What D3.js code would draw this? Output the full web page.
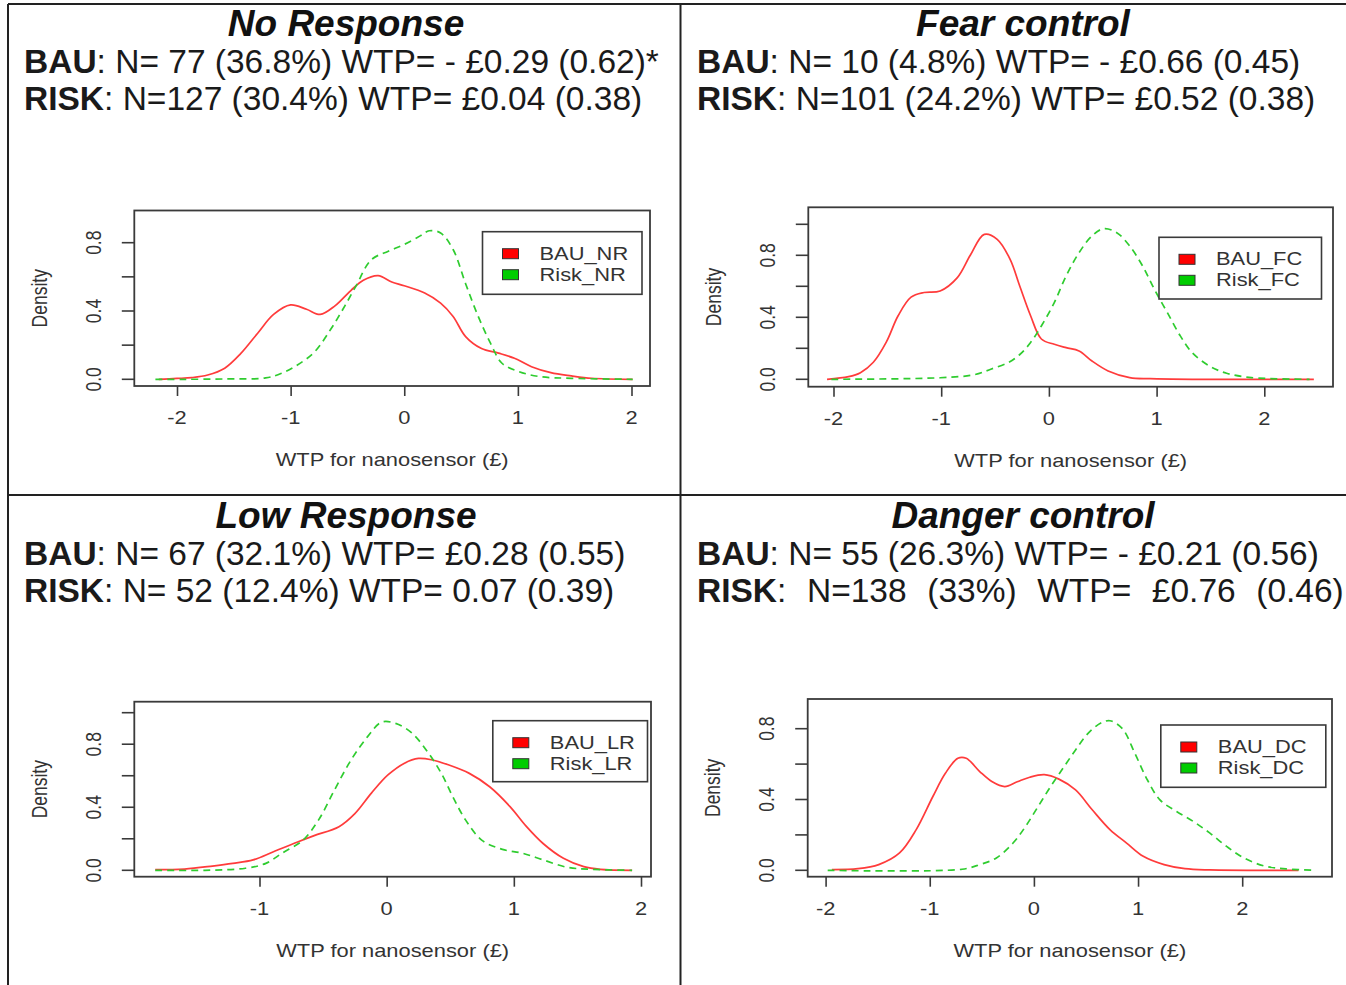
<!DOCTYPE html>
<html>
<head>
<meta charset="utf-8">
<script src="https://cdn.jsdelivr.net/npm/d3@7"></script>
<style>
  body { margin: 0; background: #fff; }
  text { font-family: "Liberation Sans", Arial, sans-serif; }
</style>
</head>
<body>
<div id="chart"></div>
<script>
// ---- data ----
var titles = ["No Response", "Fear control", "Low Response", "Danger control"]
var bauText = [" N= 77 (36.8%) WTP= - £0.29 (0.62)*", " N= 10 (4.8%) WTP= - £0.66 (0.45)",
               " N= 67 (32.1%) WTP= £0.28 (0.55)", " N= 55 (26.3%) WTP= - £0.21 (0.56)"]
var riskText = [" N=127 (30.4%) WTP= £0.04 (0.38)", " N=101 (24.2%) WTP= £0.52 (0.38)",
                " N= 52 (12.4%) WTP= 0.07 (0.39)", "  N=138  (33%)  WTP=  £0.76  (0.46)"]
var bauLegend = ["BAU_NR", "BAU_FC", "BAU_LR", "BAU_DC"]
var riskLegend = ["Risk_NR", "Risk_FC", "Risk_LR", "Risk_DC"]
var xTicks = [[-2, -1, 0, 1, 2], [-2, -1, 0, 1, 2], [-1, 0, 1, 2], [-2, -1, 0, 1, 2]]
var yTickLabels = ["0.0", "0.4", "0.8"]

// No Response
var nrBauX = [-2.16, -2, -1.87, -1.73, -1.58, -1.44, -1.29, -1.15, -1.0, -0.86, -0.74, -0.61, -0.47, -0.36, -0.23, -0.11, 0, 0.18, 0.32, 0.43, 0.54, 0.68, 0.83, 0.97, 1.12, 1.29, 1.47, 1.65, 2.01]
var nrBauY = [0.0, 0.005, 0.01, 0.025, 0.065, 0.15, 0.27, 0.38, 0.436, 0.41, 0.38, 0.43, 0.52, 0.58, 0.607, 0.57, 0.548, 0.505, 0.446, 0.368, 0.25, 0.18, 0.153, 0.123, 0.074, 0.039, 0.02, 0.006, 0.0]
var nrRiskX = [-2.19, -1.94, -1.59, -1.22, -1.08, -0.94, -0.79, -0.65, -0.54, -0.43, -0.29, -0.14, 0, 0.14, 0.22, 0.32, 0.43, 0.54, 0.65, 0.76, 0.86, 1.01, 1.19, 1.47, 2.01]
var nrRiskY = [0.0, 0.0, 0.002, 0.008, 0.035, 0.084, 0.16, 0.29, 0.41, 0.54, 0.70, 0.75, 0.79, 0.84, 0.87, 0.857, 0.76, 0.56, 0.37, 0.21, 0.094, 0.045, 0.016, 0.006, 0.0]
// Fear control
var fcBauX = [-2.06, -1.86, -1.75, -1.63, -1.51, -1.40, -1.28, -1.16, -1.01, -0.85, -0.73, -0.60, -0.48, -0.36, -0.27, -0.17, -0.07, 0.05, 0.16, 0.28, 0.40, 0.55, 0.75, 0.94, 1.33, 2.46]
var fcBauY = [0.0, 0.017, 0.043, 0.11, 0.24, 0.41, 0.53, 0.56, 0.57, 0.656, 0.80, 0.935, 0.903, 0.774, 0.60, 0.41, 0.26, 0.226, 0.204, 0.183, 0.118, 0.054, 0.011, 0.004, 0.0, 0.0]
var fcRiskX = [-2.02, -1.01, -0.69, -0.54, -0.38, -0.27, -0.17, -0.07, 0.05, 0.16, 0.28, 0.40, 0.51, 0.63, 0.75, 0.87, 0.98, 1.10, 1.22, 1.33, 1.49, 1.65, 1.88, 2.42]
var fcRiskY = [0.0, 0.01, 0.03, 0.065, 0.107, 0.16, 0.237, 0.344, 0.495, 0.667, 0.817, 0.925, 0.972, 0.946, 0.86, 0.731, 0.58, 0.43, 0.28, 0.172, 0.086, 0.039, 0.011, 0.0]
// Low Response
var lrBauX = [-1.82, -1.59, -1.37, -1.21, -1.05, -0.89, -0.70, -0.57, -0.375, -0.25, -0.12, 0.01, 0.14, 0.25, 0.36, 0.49, 0.65, 0.81, 0.97, 1.10, 1.23, 1.39, 1.55, 1.68, 1.93]
var lrBauY = [0.004, 0.008, 0.027, 0.044, 0.066, 0.118, 0.18, 0.22, 0.277, 0.36, 0.49, 0.605, 0.68, 0.71, 0.70, 0.668, 0.615, 0.53, 0.404, 0.277, 0.17, 0.076, 0.023, 0.006, 0.0]
var lrRiskX = [-1.82, -1.43, -1.11, -0.95, -0.82, -0.66, -0.535, -0.41, -0.28, -0.15, -0.04, 0.07, 0.20, 0.33, 0.43, 0.52, 0.62, 0.75, 0.91, 1.07, 1.23, 1.42, 1.61, 1.93]
var lrRiskY = [0.0, 0.0, 0.013, 0.044, 0.11, 0.19, 0.32, 0.51, 0.70, 0.848, 0.94, 0.932, 0.87, 0.742, 0.615, 0.467, 0.32, 0.19, 0.133, 0.108, 0.066, 0.019, 0.006, 0.0]
// Danger control
var dcBauX = [-1.94, -1.69, -1.49, -1.29, -1.13, -0.97, -0.85, -0.73, -0.65, -0.52, -0.40, -0.28, -0.16, -0.04, 0.10, 0.24, 0.40, 0.56, 0.73, 0.89, 1.05, 1.25, 1.45, 1.69, 2.54]
var dcBauY = [0.004, 0.009, 0.032, 0.098, 0.23, 0.417, 0.548, 0.633, 0.633, 0.558, 0.50, 0.473, 0.50, 0.526, 0.54, 0.515, 0.454, 0.342, 0.23, 0.154, 0.079, 0.032, 0.009, 0.002, 0.0]
var dcRiskX = [-1.98, -0.69, -0.52, -0.36, -0.20, -0.08, 0.04, 0.16, 0.28, 0.40, 0.52, 0.65, 0.73, 0.85, 0.97, 1.09, 1.21, 1.37, 1.53, 1.69, 1.85, 2.02, 2.22, 2.42, 2.70]
var dcRiskY = [0.0, 0.006, 0.032, 0.07, 0.154, 0.248, 0.36, 0.473, 0.577, 0.68, 0.774, 0.834, 0.845, 0.80, 0.66, 0.51, 0.398, 0.332, 0.276, 0.21, 0.135, 0.069, 0.023, 0.008, 0.0]

var bauSeries = [[nrBauX, nrBauY], [fcBauX, fcBauY], [lrBauX, lrBauY], [dcBauX, dcBauY]]
var riskSeries = [[nrRiskX, nrRiskY], [fcRiskX, fcRiskY], [lrRiskX, lrRiskY], [dcRiskX, dcRiskY]]

// ---- layout of the four panels (pixels) ----
var layout = [
  {oy: 0,   tx: 24,  cx: 346,  xd: [-2, 2], xr: [177, 631.5],    yd: [0, 0.8], yr: [379.3, 242.7], box: [134.3, 210.5, 650, 386],   leg: [482.5, 231.7, 642, 294.3]},
  {oy: 0,   tx: 697, cx: 1023, xd: [-2, 2], xr: [833.5, 1264.3], yd: [0, 1],   yr: [379.3, 224.3], box: [808.3, 207.3, 1333, 386.7], leg: [1159, 237.3, 1321.5, 299]},
  {oy: 492, tx: 24,  cx: 346,  xd: [-1, 2], xr: [259.5, 641],    yd: [0, 1],   yr: [870.3, 712.7], box: [134.3, 701.7, 651, 876.7], leg: [492.8, 720.7, 647.5, 781.7]},
  {oy: 492, tx: 697, cx: 1023, xd: [-2, 2], xr: [825.6, 1242.2], yd: [0, 0.8], yr: [870.3, 728.7], box: [807.7, 699, 1332, 876.7],   leg: [1160.8, 725, 1325.8, 787.3]}
]

var width = 1346
var height = 985
var sx = 1.25   // the R plots are stretched sideways in the picture
var ink = "#3a3a3a"

var svg = d3.select("#chart")
    .append("svg")
    .attr("width", width)
    .attr("height", height)

// outer frame and dividers
var frame = [[8, 4, 1346, 4], [8, 4, 8, 985], [680.5, 4, 680.5, 985], [8, 495, 1346, 495]]
svg.selectAll("line.frame")
    .data(frame)
    .enter()
    .append("line")
    .attr("x1", function(d) { return d[0] })
    .attr("y1", function(d) { return d[1] })
    .attr("x2", function(d) { return d[2] })
    .attr("y2", function(d) { return d[3] })
    .attr("stroke", "#222")
    .attr("stroke-width", 2)

function rText(g, x, y, rotate) {
    return g.append("text")
        .attr("transform", "translate(" + x + "," + y + ") scale(" + sx + ",1)" + (rotate ? " rotate(-90)" : ""))
        .attr("font-size", 17.5)
        .attr("fill", "#333")
}

layout.forEach(function(p, i) {
    var g = svg.append("g")

    // header texts
    g.append("text")
        .attr("x", p.cx)
        .attr("y", p.oy + 36)
        .attr("text-anchor", "middle")
        .attr("font-size", 37)
        .attr("font-weight", "bold")
        .attr("font-style", "italic")
        .attr("fill", "#111")
        .text(titles[i])

    var lines = [["BAU", bauText[i], 73], ["RISK", riskText[i], 110]]
    lines.forEach(function(l) {
        var t = g.append("text")
            .attr("x", p.tx)
            .attr("y", p.oy + l[2])
            .attr("font-size", 33.5)
            .attr("fill", "#1a1a1a")
            .style("white-space", "pre")
            .style("word-spacing", l[1].indexOf("  ") >= 0 ? "1px" : null)
        t.append("tspan").attr("font-weight", "bold").text(l[0])
        t.append("tspan").text(":" + l[1])
    })

    // scales
    var x = d3.scaleLinear().domain(p.xd).range(p.xr)
    var y = d3.scaleLinear().domain(p.yd).range(p.yr)
    var b = p.box

    // box
    g.append("rect")
        .attr("x", b[0]).attr("y", b[1])
        .attr("width", b[2] - b[0]).attr("height", b[3] - b[1])
        .attr("fill", "none")
        .attr("stroke", ink)
        .attr("stroke-width", 1.8)

    // x axis
    var xAxis = d3.axisBottom(x).tickValues(xTicks[i]).tickSize(10).tickFormat("")
    var gx = g.append("g").attr("transform", "translate(0," + b[3] + ")").call(xAxis)
    gx.select(".domain").remove()
    gx.selectAll("line").attr("stroke", ink).attr("stroke-width", 1.6)
    xTicks[i].forEach(function(t) {
        rText(g, x(t), b[3] + 38, false)
            .attr("text-anchor", "middle")
            .text(t < 0 ? "-" + Math.abs(t) : t)
    })

    // y axis
    var yMax = y.invert(b[1])
    var yt = d3.range(0, yMax + 1e-9, 0.2)
    var gy = g.append("g").attr("transform", "translate(" + b[0] + ",0)")
    gy.selectAll("line")
        .data(yt)
        .enter()
        .append("line")
        .attr("x1", -12.5).attr("x2", 0)
        .attr("y1", function(d) { return y(d) })
        .attr("y2", function(d) { return y(d) })
        .attr("stroke", ink)
        .attr("stroke-width", 1.6)
    yTickLabels.forEach(function(s) {
        rText(g, b[0] - 41, y(+s), true)
            .attr("text-anchor", "middle")
            .attr("dominant-baseline", "central")
            .text(s)
    })

    // axis titles
    rText(g, (b[0] + b[2]) / 2, b[3] + 80, false)
        .attr("text-anchor", "middle")
        .text("WTP for nanosensor (£)")
    rText(g, b[0] - 95, (b[1] + b[3]) / 2, true)
        .attr("text-anchor", "middle")
        .attr("dominant-baseline", "central")
        .text("Density")

    // density curves
    var line = d3.line()
        .x(function(d) { return x(d[0]) })
        .y(function(d) { return y(d[1]) })
        .curve(d3.curveCatmullRom.alpha(0.5))

    var bau = d3.zip(bauSeries[i][0], bauSeries[i][1])
    var risk = d3.zip(riskSeries[i][0], riskSeries[i][1])

    g.append("path")
        .attr("d", line(bau))
        .attr("fill", "none")
        .attr("stroke", "#ff3b3b")
        .attr("stroke-width", 1.7)
    g.append("path")
        .attr("d", line(risk))
        .attr("fill", "none")
        .attr("stroke", "#2fcc2f")
        .attr("stroke-width", 1.7)
        .attr("stroke-dasharray", "7,5")

    // legend
    var L = p.leg
    g.append("rect")
        .attr("x", L[0]).attr("y", L[1])
        .attr("width", L[2] - L[0]).attr("height", L[3] - L[1])
        .attr("fill", "#fff")
        .attr("stroke", ink)
        .attr("stroke-width", 1.6)
    var items = [[bauLegend[i], "#ff0000"], [riskLegend[i], "#00cd00"]]
    items.forEach(function(it, k) {
        var cy = L[1] + 22 + k * 21
        g.append("rect")
            .attr("x", L[0] + 20).attr("y", cy - 5)
            .attr("width", 16).attr("height", 10)
            .attr("fill", it[1])
            .attr("stroke", "#333")
            .attr("stroke-width", 1)
        rText(g, L[0] + 57, cy + 6, false).text(it[0])
    })
})
</script>
</body>
</html>
